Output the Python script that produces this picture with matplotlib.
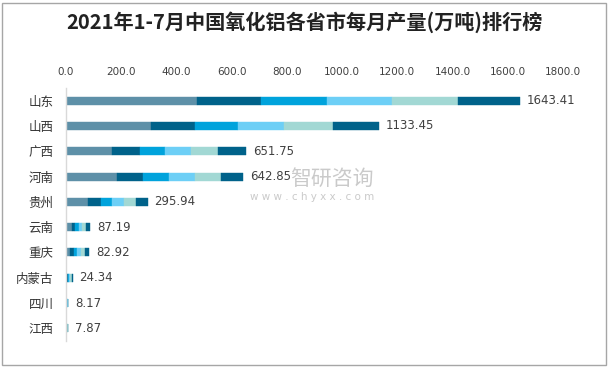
import matplotlib
matplotlib.use("Agg")
import matplotlib.pyplot as plt
import numpy as np
from matplotlib.patches import Rectangle

plt.rcParams['font.family'] = ['Noto Sans CJK SC', 'DejaVu Sans']

provinces = ["山东", "山西", "广西", "河南", "贵州", "云南", "重庆", "内蒙古", "四川", "江西"]
totals = [1643.41, 1133.45, 651.75, 642.85, 295.94, 87.19, 82.92, 24.34, 8.17, 7.87]
seg_jan_feb = [474, 308, 166, 185, 79, 22, 14, 4.0, 1.4, 1.3]
seg_mar = [232, 159, 102, 94, 48, 11, 14, 4.0, 1.4, 1.3]
seg_apr = [239, 155, 90, 94, 39, 13, 13, 4.0, 1.4, 1.3]
seg_may = [235, 167, 94, 94, 44, 12, 14, 4.0, 1.3, 1.3]
seg_jun = [239, 177, 98, 94, 43, 13, 14, 4.0, 1.3, 1.3]
seg_jul = [t - a - b - c - d - e for t, a, b, c, d, e in
           zip(totals, seg_jan_feb, seg_mar, seg_apr, seg_may, seg_jun)]
segments = [seg_jan_feb, seg_mar, seg_apr, seg_may, seg_jun, seg_jul]
colors = ["#5E90A8", "#00628A", "#00A3DC", "#6DCFF6", "#A2D8D4", "#00628A"]
xticks = [0, 200, 400, 600, 800, 1000, 1200, 1400, 1600, 1800]

fig = plt.figure(figsize=(6.09, 3.69), dpi=100)
ax = fig.add_axes([66/609, 1-341/369, (563-66)/609, (341-88)/369])

y = np.arange(len(provinces))
left = np.zeros(len(provinces))
for seg, col in zip(segments, colors):
    ax.barh(y, seg, left=left, height=0.32, color=col, edgecolor=col, linewidth=0.3)
    left += np.array(seg)

for yi, t in zip(y, totals):
    ax.text(t + 25, yi, f"{t:.2f}", va='center', ha='left', fontsize=8.5,
            color='#404040', family=['DejaVu Sans'])

ax.set_ylim(len(provinces) - 0.5, -0.5)
ax.set_xlim(0, 1800)
ax.set_yticks(y)
ax.set_yticklabels(provinces, fontsize=9, color='#333333')
ax.set_xticks(xticks)
ax.set_xticklabels([f"{v:.1f}" for v in xticks], fontsize=7.5, color='#404040',
                   family=['DejaVu Sans'])
ax.xaxis.tick_top()
ax.tick_params(axis='x', length=0, pad=8)
ax.tick_params(axis='y', length=0, pad=9)
for s in ['top', 'right', 'bottom']:
    ax.spines[s].set_visible(False)
ax.spines['left'].set_color('#D9D9D9')
ax.spines['left'].set_linewidth(1.0)

fig.text(0.5, 1-22/369, "2021年1-7月中国氧化铝各省市每月产量(万吨)排行榜",
         ha='center', va='center', fontsize=14.5, fontweight='bold', color='#222222')

# watermark
fig.text(332/609, 1-179/369, "智研咨询", ha='center', va='center', fontsize=15,
         color='#BDBDBD', alpha=0.8)
fig.text(312/609, 1-197/369, "w w w . c h y x x . c o m", ha='center', va='center',
         fontsize=7.5, color='#BDBDBD', alpha=0.8, family=['DejaVu Sans'])

fig.add_artist(Rectangle((2/609, 4/369), 604/609, 362/369, transform=fig.transFigure,
                         fill=False, edgecolor='#A6A6A6', linewidth=1.0))

fig.savefig("out.png", dpi=100)
